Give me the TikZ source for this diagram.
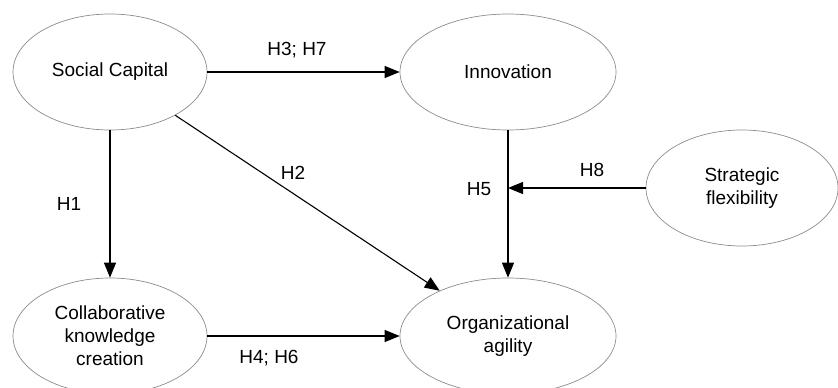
\documentclass[tikz,border=0pt]{standalone}
\usepackage{fontspec}
\setmainfont{Liberation Sans}
\usetikzlibrary{shapes.geometric,arrows.meta}
\begin{document}
\begin{tikzpicture}[x=1pt,y=-1pt,
  ell/.style={ellipse,draw=black!45,line width=0.7pt,inner sep=0pt,align=center,
    font=\fontsize{19}{23}\selectfont},
  arr/.style={line width=1.1pt,-{Triangle[length=15pt,width=12pt]}},
  lab/.style={font=\fontsize{19}{23}\selectfont,inner sep=0pt}]
\useasboundingbox (0,0) rectangle (838,388);
\node[ell,minimum width=194pt,minimum height=116pt] (sc) at (110,72) {Social Capital};
\node[ell,minimum width=216pt,minimum height=116pt] (inn) at (508,72) {Innovation};
\node[ell,minimum width=192pt,minimum height=116pt] (sf) at (742,188) {Strategic\\flexibility};
\node[ell,minimum width=194pt,minimum height=116pt] (ckc) at (110,336) {Collaborative\\knowledge\\creation};
\node[ell,minimum width=216pt,minimum height=116pt] (oa) at (508,336) {Organizational\\agility};
\coordinate (j) at (sf.west -| inn.south);
\draw[arr] (sc) -- (inn);
\draw[arr] (sc) -- (ckc);
\draw[arr] (sc) -- (oa);
\draw[arr] (inn) -- (oa);
\draw[arr] (sf.west) -- (j);
\draw[arr] (ckc) -- (oa);
\node[lab] (l37) at (297,50) {H3; H7};
\node[lab] (l1) at (69,204) {H1};
\node[lab] (l2) at (293,173) {H2};
\node[lab] (l5) at (479,189) {H5};
\node[lab] (l8) at (592,170) {H8};
\node[lab] (l46) at (269,358) {H4; H6};
\end{tikzpicture}
\end{document}
